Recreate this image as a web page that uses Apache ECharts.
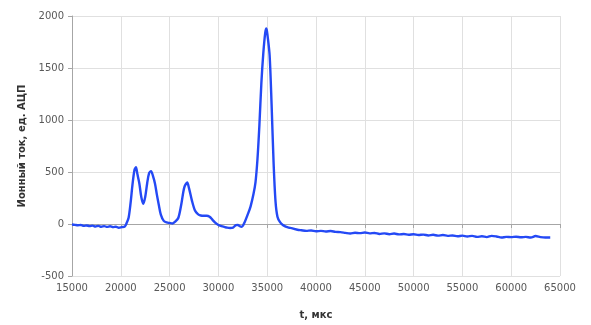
<!DOCTYPE html>
<html>
<head>
<meta charset="utf-8">
<script src="https://cdn.jsdelivr.net/npm/echarts@6/dist/echarts.min.js"></script>
<style>html,body{margin:0;padding:0;background:#fff}#c{width:591px;height:325px}</style>
</head>
<body>
<div id="c"></div>
<script>
var tValues = [15000,15300,15600,15900,16200,16500,16800,17100,17400,17700,18000,18300,18600,18900,19200,19500,19800,20100,20400,20600,20800,21000,21200,21400,21550,21700,21900,22100,22300,22500,22700,22900,23100,23300,23500,23700,23900,24100,24400,24700,25000,25300,25600,25900,26200,26500,26800,27000,27300,27600,27900,28200,28500,28800,29100,29400,29700,30000,30300,30600,30900,31200,31500,31800,32000,32200,32400,32700,33000,33300,33600,33800,34000,34200,34400,34600,34800,34920,35050,35250,35450,35650,35850,36050,36300,36600,36900,37200,37500,37800,38100,38500,39000,39500,40000,40500,41000,41500,42000,42500,43000,43500,44000,44500,45000,45500,46000,46500,47000,47500,48000,48500,49000,49500,50000,50500,51000,51500,52000,52500,53000,53500,54000,54500,55000,55500,56000,56500,57000,57500,58000,58500,59000,59500,60000,60500,61000,61500,62000,62500,63000,63500,64000];
var currentValues = [-5,-8,-12,-10,-18,-14,-20,-16,-24,-18,-26,-20,-28,-22,-30,-26,-36,-30,-25,10,60,200,380,520,545,480,390,260,195,260,390,490,508,460,390,280,180,90,30,15,10,5,25,60,190,350,400,340,220,130,95,82,80,80,70,40,10,-10,-20,-28,-35,-38,-35,-10,-8,-22,-26,20,90,170,290,400,620,950,1350,1640,1840,1880,1800,1620,1150,600,220,70,20,-10,-25,-35,-40,-48,-55,-60,-66,-62,-70,-66,-72,-68,-76,-78,-85,-92,-84,-88,-82,-90,-86,-96,-90,-98,-92,-100,-96,-104,-98,-106,-102,-110,-104,-112,-106,-114,-110,-118,-112,-120,-114,-124,-118,-126,-114,-120,-130,-124,-126,-122,-128,-124,-130,-116,-126,-130,-130];
var xTicks = {min: 15000, max: 65000, interval: 5000};
var yTicks = {min: -500, max: 2000, interval: 500};

var data = tValues.map(function (t, i) { return [t, currentValues[i]]; });
var chart = echarts.init(document.getElementById('c'), null, {renderer: 'canvas'});
var labelStyle = {color: '#595959', fontFamily: 'DejaVu Sans', fontSize: 10, formatter: function (v) { return String(v); }};
chart.setOption({
  animation: false,
  backgroundColor: '#fff',
  grid: {left: 72, right: 31, top: 16, bottom: 46},
  xAxis: {
    type: 'value', min: xTicks.min, max: xTicks.max, interval: xTicks.interval,
    name: 't, мкс', nameLocation: 'middle', nameGap: 34,
    nameTextStyle: {color: '#333', fontFamily: 'DejaVu Sans', fontSize: 10, fontWeight: 'bold'},
    axisLine: {lineStyle: {color: '#a6a6a6'}},
    axisTick: {show: true, length: 4, lineStyle: {color: '#a6a6a6'}},
    axisLabel: Object.assign({margin: 7}, labelStyle),
    splitLine: {show: true, lineStyle: {color: '#e0e0e0'}}
  },
  yAxis: {
    type: 'value', min: yTicks.min, max: yTicks.max, interval: yTicks.interval,
    name: 'Ионный ток, ед. АЦП', nameLocation: 'middle', nameGap: 44,
    nameTextStyle: {color: '#333', fontFamily: 'DejaVu Sans', fontSize: 10, fontWeight: 'bold'},
    axisLine: {show: true, lineStyle: {color: '#a6a6a6'}},
    axisTick: {show: true, length: 4, lineStyle: {color: '#a6a6a6'}},
    axisLabel: Object.assign({margin: 8}, labelStyle),
    splitLine: {show: true, lineStyle: {color: '#e0e0e0'}}
  },
  series: [{
    type: 'line', data: data, showSymbol: false, smooth: 0.3,
    lineStyle: {color: '#2449f5', width: 2.4}
  }]
});
</script>
</body>
</html>
